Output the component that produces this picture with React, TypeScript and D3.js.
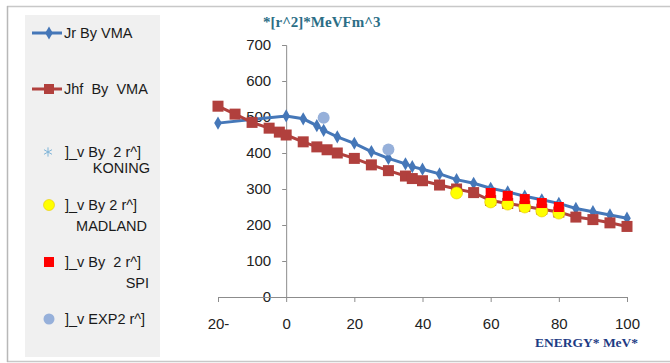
import { useEffect, useRef } from "react";
import * as d3 from "d3";

// Jr By VMA
const jrEnergy = [-20, 0, 5, 9, 11, 15, 20, 25, 30, 35, 37, 40, 45, 50, 55, 60, 65, 70, 75, 80, 85, 90, 95, 100];
const jrValue = [483, 503, 495, 476, 463, 445, 427, 404, 385, 370, 362, 355, 342, 326, 316, 302, 292, 280, 270, 260, 246, 237, 228, 219];

// Jhf By VMA
const jhfEnergy = [-20, -15, -10, -5, -2, 0, 5, 9, 12, 15, 20, 25, 30, 35, 37, 40, 45, 50, 55, 60, 65, 70, 75, 80, 85, 90, 95, 100];
const jhfValue = [530, 508, 485, 469, 458, 450, 431, 417, 409, 400, 385, 367, 351, 336, 329, 323, 311, 300, 290, 268, 260, 252, 244, 236, 222, 215, 206, 196];

const koningEnergy = [60, 65, 70, 75, 80];
const koningValue = [292, 284, 275, 265, 255];

const madlandEnergy = [50, 60, 65, 70, 75, 80];
const madlandValue = [289, 264, 258, 250, 239, 233];

const spiEnergy = [60, 65, 70, 75, 80];
const spiValue = [289, 281, 272, 261, 250];

const expEnergy = [11, 30];
const expValue = [498, 410];

const xTicks = [-20, 0, 20, 40, 60, 80, 100];
const xTickLabels = ["20-", "0", "20", "40", "60", "80", "100"];
const yTicks = [0, 100, 200, 300, 400, 500, 600, 700];

const App = () => {
  const svgRef = useRef<SVGSVGElement>(null);

  useEffect(() => {
    const svg = d3.select(svgRef.current);
    svg.selectAll("*").remove();

    const width = 670;
    const height = 363;

    const xScale = d3.scaleLinear().domain([-20, 100]).range([218, 627]);
    const yScale = d3.scaleLinear().domain([0, 700]).range([297, 45]);

    // background + frame
    svg.append("rect").attr("width", width).attr("height", height).attr("fill", "white");
    svg.append("line").attr("x1", 7).attr("x2", width).attr("y1", 6.5).attr("y2", 6.5).attr("stroke", "#c8c8c8").attr("stroke-width", 1.5);
    svg.append("line").attr("x1", 7).attr("x2", width).attr("y1", 361.5).attr("y2", 361.5).attr("stroke", "#c8c8c8").attr("stroke-width", 1.5);
    svg.append("line").attr("x1", 7.5).attr("x2", 7.5).attr("y1", 6).attr("y2", 362).attr("stroke", "#b8b8b8").attr("stroke-width", 1.5);

    // legend box
    svg.append("rect").attr("x", 25).attr("y", 15).attr("width", 135).attr("height", 342).attr("fill", "#f0f0f0");

    // y axis at x = 0
    const yAxis = svg.append("g")
      .attr("transform", `translate(${xScale(0)},0)`)
      .call(d3.axisLeft(yScale).tickValues(yTicks).tickSize(4).tickPadding(11));
    yAxis.select(".domain").attr("stroke", "#8c8c8c");
    yAxis.selectAll("line").attr("stroke", "#8c8c8c");
    yAxis.selectAll("text").attr("fill", "#222").style("font-family", "Liberation Sans, Arial, sans-serif").style("font-size", "15px");

    // x axis at y = 0
    const xAxis = svg.append("g")
      .attr("transform", `translate(0,${yScale(0)})`)
      .call(d3.axisBottom(xScale).tickValues(xTicks).tickSize(5).tickPadding(16)
        .tickFormat((d, i) => xTickLabels[i]));
    xAxis.select(".domain").attr("stroke", "#8c8c8c");
    xAxis.selectAll("line").attr("stroke", "#8c8c8c");
    xAxis.selectAll("text").attr("fill", "#222").style("font-family", "Liberation Sans, Arial, sans-serif").style("font-size", "15px");

    // titles
    svg.append("text").attr("x", 263).attr("y", 27)
      .attr("fill", "#2b6e86").style("font-family", "Liberation Serif, serif").style("font-size", "15px").style("font-weight", "bold")
      .text("*[r^2]*MeVFm^3");
    svg.append("text").attr("x", 535).attr("y", 347)
      .attr("fill", "#1d3b84").style("font-family", "Liberation Serif, serif").style("font-size", "13.5px").style("font-weight", "bold")
      .text("ENERGY* MeV*");

    const line = d3.line<[number, number]>().x((d) => xScale(d[0])).y((d) => yScale(d[1]));
    const pairs = (xs: number[], ys: number[]) => xs.map((x, i) => [x, ys[i]] as [number, number]);

    const jr = pairs(jrEnergy, jrValue);
    const jhf = pairs(jhfEnergy, jhfValue);

    const blue = "#4577b8";
    const brown = "#b1403d";

    // Jr By VMA
    svg.append("path").datum(jr).attr("d", line).attr("fill", "none").attr("stroke", blue).attr("stroke-width", 3);
    svg.append("g").selectAll("path").data(jr).join("path")
      .attr("d", d3.symbol(d3.symbolDiamond, 50))
      .attr("transform", (d) => `translate(${xScale(d[0])},${yScale(d[1])})`)
      .attr("fill", blue);

    // Jhf By VMA
    svg.append("path").datum(jhf).attr("d", line).attr("fill", "none").attr("stroke", brown).attr("stroke-width", 3);
    svg.append("g").selectAll("rect").data(jhf).join("rect")
      .attr("x", (d) => xScale(d[0]) - 5.5).attr("y", (d) => yScale(d[1]) - 5.5)
      .attr("width", 11).attr("height", 11).attr("fill", brown);

    // KONING
    svg.append("g").selectAll("path").data(pairs(koningEnergy, koningValue)).join("path")
      .attr("d", d3.symbol(d3.symbolAsterisk, 60))
      .attr("transform", (d) => `translate(${xScale(d[0])},${yScale(d[1])})`)
      .attr("fill", "none").attr("stroke", "#7fb4d8").attr("stroke-width", 1);

    // MADLAND
    svg.append("g").selectAll("circle").data(pairs(madlandEnergy, madlandValue)).join("circle")
      .attr("cx", (d) => xScale(d[0])).attr("cy", (d) => yScale(d[1])).attr("r", 6)
      .attr("fill", "#ffff00").attr("stroke", "#e8c800").attr("stroke-width", 0.6);

    // SPI
    svg.append("g").selectAll("rect").data(pairs(spiEnergy, spiValue)).join("rect")
      .attr("x", (d) => xScale(d[0]) - 5).attr("y", (d) => yScale(d[1]) - 5)
      .attr("width", 10).attr("height", 10).attr("fill", "#ff0000");

    // EXP
    svg.append("g").selectAll("circle").data(pairs(expEnergy, expValue)).join("circle")
      .attr("cx", (d) => xScale(d[0])).attr("cy", (d) => yScale(d[1])).attr("r", 6)
      .attr("fill", "#96b0da");

    // legend
    const lg = svg.append("g").style("font-family", "'Liberation Sans', Arial, sans-serif").style("font-size", "14.5px").attr("fill", "#1a1a1a");
    const lx = 49;

    lg.append("line").attr("x1", 32).attr("x2", 62).attr("y1", 33).attr("y2", 33).attr("stroke", blue).attr("stroke-width", 3);
    lg.append("path").attr("d", d3.symbol(d3.symbolDiamond, 50)).attr("transform", `translate(${lx},33)`).attr("fill", blue);
    lg.append("text").attr("x", 64).attr("y", 38).text("Jr By VMA");

    lg.append("line").attr("x1", 32).attr("x2", 62).attr("y1", 89).attr("y2", 89).attr("stroke", brown).attr("stroke-width", 3);
    lg.append("rect").attr("x", lx - 5).attr("y", 84).attr("width", 10).attr("height", 10).attr("fill", brown);
    lg.append("text").attr("x", 64).attr("y", 94).style("white-space", "pre").text("Jhf  By  VMA");

    lg.append("path").attr("d", d3.symbol(d3.symbolAsterisk, 60)).attr("transform", `translate(${lx - 1},152)`)
      .attr("fill", "none").attr("stroke", "#7fb4d8").attr("stroke-width", 1);
    lg.append("text").attr("x", 65).attr("y", 157).style("white-space", "pre").text("]_v By  2 r^]");
    lg.append("text").attr("x", 150).attr("y", 173).attr("text-anchor", "end").text("KONING");

    lg.append("circle").attr("cx", lx).attr("cy", 205).attr("r", 5.5).attr("fill", "#ffff00").attr("stroke", "#e8c800").attr("stroke-width", 0.6);
    lg.append("text").attr("x", 65).attr("y", 210).text("]_v By 2 r^]");
    lg.append("text").attr("x", 147).attr("y", 230.5).attr("text-anchor", "end").text("MADLAND");

    lg.append("rect").attr("x", lx - 5).attr("y", 257).attr("width", 10).attr("height", 10).attr("fill", "#ff0000");
    lg.append("text").attr("x", 65).attr("y", 267).style("white-space", "pre").text("]_v By  2 r^]");
    lg.append("text").attr("x", 149).attr("y", 287.5).attr("text-anchor", "end").text("SPI");

    lg.append("circle").attr("cx", lx).attr("cy", 319).attr("r", 5.5).attr("fill", "#96b0da");
    lg.append("text").attr("x", 65).attr("y", 324).text("]_v EXP2 r^]");
  }, []);

  return (
    <div style={{ position: "fixed", left: 0, top: 0 }}>
      <svg ref={svgRef} width={670} height={363} style={{ display: "block" }} />
    </div>
  );
};

export default App;
